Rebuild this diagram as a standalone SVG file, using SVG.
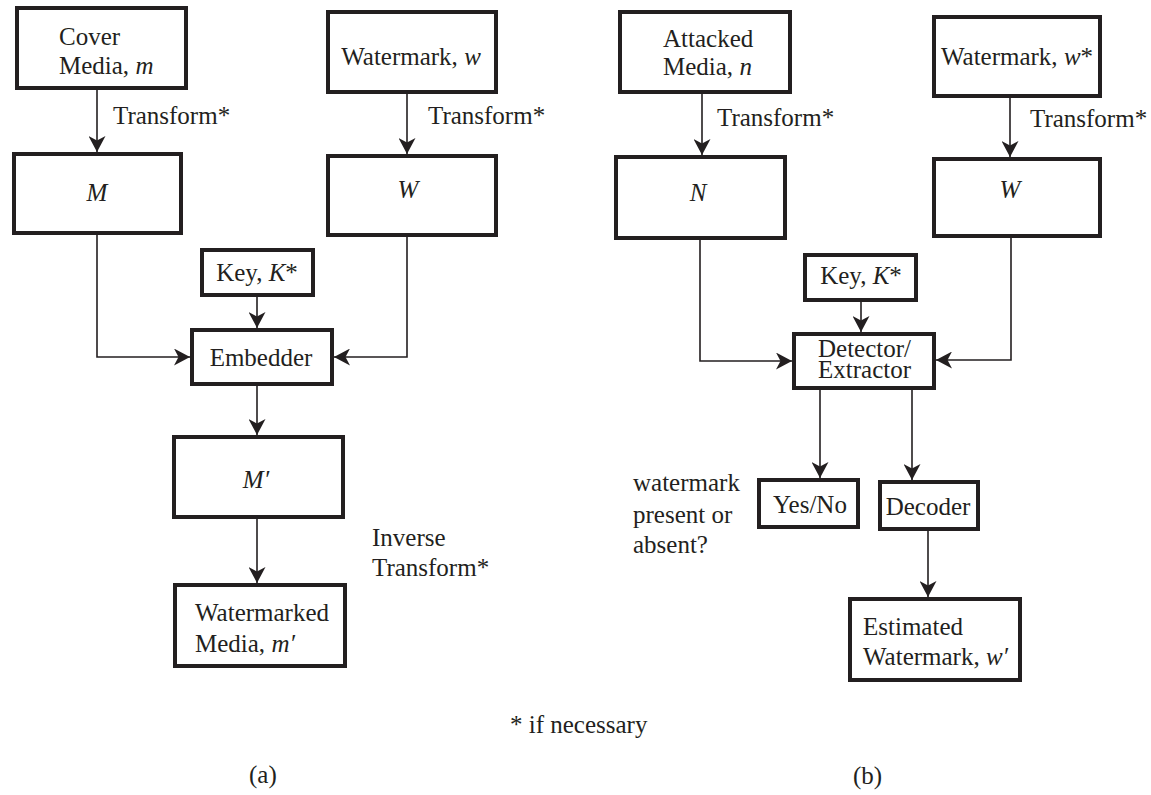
<svg xmlns="http://www.w3.org/2000/svg" width="1151" height="795" viewBox="0 0 1151 795">
<style>
  .box { fill: #ffffff; stroke: #231f20; stroke-width: 4; }
  .conn { fill: none; stroke: #231f20; stroke-width: 1.6; }
  text { font-family: "Liberation Serif", "Times New Roman", serif; font-size: 25px; fill: #231f20; }
  .c { text-anchor: middle; }
  .i { font-style: italic; }
</style>
<defs>
  <marker id="arr" markerUnits="userSpaceOnUse" viewBox="0 0 16 17" refX="16" refY="8.5" markerWidth="16" markerHeight="17" orient="auto">
    <path d="M16,8.5 L0,0 L4.5,8.5 L0,17 Z" fill="#231f20"/>
  </marker>
</defs>
<rect width="1151" height="795" fill="#ffffff"/>

<g id="connectors">
  <line class="conn" x1="97" y1="90" x2="97" y2="152" marker-end="url(#arr)"/>
  <line class="conn" x1="407" y1="94" x2="407" y2="154" marker-end="url(#arr)"/>
  <polyline class="conn" points="97,235 97,357 190,357" marker-end="url(#arr)"/>
  <polyline class="conn" points="407,237 407,357 334,357" marker-end="url(#arr)"/>
  <line class="conn" x1="257" y1="297" x2="257" y2="328" marker-end="url(#arr)"/>
  <line class="conn" x1="257" y1="386" x2="257" y2="435" marker-end="url(#arr)"/>
  <line class="conn" x1="257" y1="519" x2="257" y2="583" marker-end="url(#arr)"/>

  <line class="conn" x1="702" y1="94" x2="702" y2="155" marker-end="url(#arr)"/>
  <line class="conn" x1="1010" y1="98" x2="1010" y2="157" marker-end="url(#arr)"/>
  <polyline class="conn" points="700,240 700,361 792,361" marker-end="url(#arr)"/>
  <polyline class="conn" points="1011,238 1011,360 936,360" marker-end="url(#arr)"/>
  <line class="conn" x1="861" y1="302" x2="861" y2="332" marker-end="url(#arr)"/>
  <line class="conn" x1="820" y1="390" x2="820" y2="478" marker-end="url(#arr)"/>
  <line class="conn" x1="912" y1="390" x2="912" y2="480" marker-end="url(#arr)"/>
  <line class="conn" x1="928" y1="531" x2="928" y2="597" marker-end="url(#arr)"/>
</g>

<g id="node-cover">
  <rect class="box" x="17" y="8" width="169" height="80"/>
  <text x="59" y="45">Cover</text>
  <text x="59" y="74">Media, <tspan class="i">m</tspan></text>
</g>
<g id="node-M">
  <rect class="box" x="14" y="154" width="167" height="79"/>
  <text class="c i" x="97" y="201">M</text>
</g>
<g id="node-watermark-a">
  <rect class="box" x="328" y="12" width="168" height="80"/>
  <text class="c" x="411" y="65">Watermark, <tspan class="i">w</tspan></text>
</g>
<g id="node-W-a">
  <rect class="box" x="328" y="156" width="168" height="79"/>
  <text class="c i" x="408" y="198">W</text>
</g>
<g id="node-key-a">
  <rect class="box" x="202" y="250" width="111" height="45"/>
  <text class="c" x="257" y="281">Key, <tspan class="i">K</tspan>*</text>
</g>
<g id="node-embedder">
  <rect class="box" x="192" y="330" width="140" height="54"/>
  <text class="c" x="261" y="366">Embedder</text>
</g>
<g id="node-Mprime">
  <rect class="box" x="174" y="437" width="169" height="80"/>
  <text class="c i" x="256" y="488">M′</text>
</g>
<g id="node-watermarked">
  <rect class="box" x="175" y="585" width="170" height="81"/>
  <text x="195" y="621">Watermarked</text>
  <text x="195" y="652">Media, <tspan class="i">m′</tspan></text>
</g>

<g id="node-attacked">
  <rect class="box" x="620" y="12" width="170" height="80"/>
  <text x="663" y="47">Attacked</text>
  <text x="663" y="75">Media, <tspan class="i">n</tspan></text>
</g>
<g id="node-N">
  <rect class="box" x="616" y="157" width="169" height="81"/>
  <text class="c i" x="698" y="201">N</text>
</g>
<g id="node-watermark-b">
  <rect class="box" x="934" y="17" width="166" height="79"/>
  <text class="c" x="1017" y="65">Watermark, <tspan class="i">w</tspan>*</text>
</g>
<g id="node-W-b">
  <rect class="box" x="934" y="159" width="166" height="77"/>
  <text class="c i" x="1010" y="198">W</text>
</g>
<g id="node-key-b">
  <rect class="box" x="805" y="255" width="111" height="45"/>
  <text class="c" x="861" y="284">Key, <tspan class="i">K</tspan>*</text>
</g>
<g id="node-detector">
  <rect class="box" x="794" y="334" width="140" height="54"/>
  <text x="818" y="357">Detector/</text>
  <text x="818" y="378">Extractor</text>
</g>
<g id="node-yesno">
  <rect class="box" x="759" y="480" width="99" height="47"/>
  <text class="c" x="810" y="513">Yes/No</text>
</g>
<g id="node-decoder">
  <rect class="box" x="880" y="482" width="98" height="47"/>
  <text class="c" x="928" y="515">Decoder</text>
</g>
<g id="node-estimated">
  <rect class="box" x="850" y="599" width="170" height="81"/>
  <text x="863" y="635">Estimated</text>
  <text x="863" y="665">Watermark, <tspan class="i">w′</tspan></text>
</g>

<g id="labels">
  <text x="113" y="124">Transform*</text>
  <text x="428" y="124">Transform*</text>
  <text x="372" y="546">Inverse</text>
  <text x="372" y="576">Transform*</text>
  <text x="717" y="126">Transform*</text>
  <text x="1030" y="127">Transform*</text>
  <text x="633" y="491">watermark</text>
  <text x="633" y="523">present or</text>
  <text x="633" y="553">absent?</text>
  <text x="510" y="733">* if necessary</text>
  <text x="249" y="783">(a)</text>
  <text x="853" y="784">(b)</text>
</g>
</svg>
